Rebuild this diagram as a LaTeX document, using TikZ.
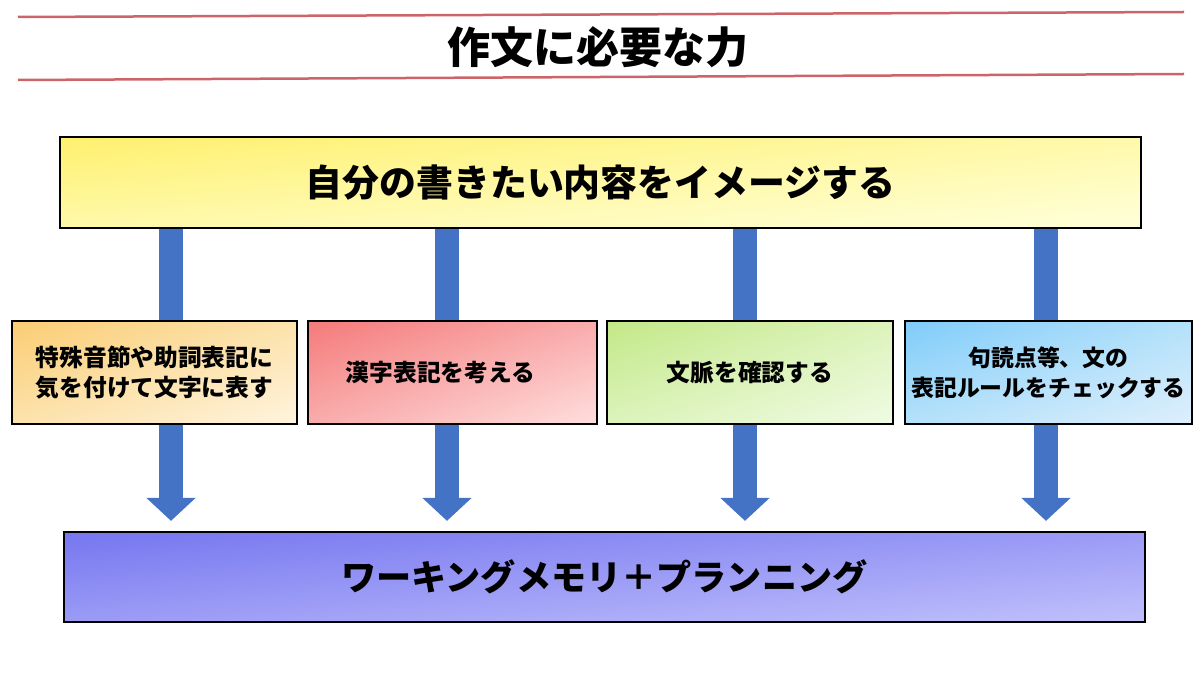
\documentclass[tikz,border=0pt]{standalone}
\usepackage{fontspec}
\setmainfont{Noto Sans CJK JP}
\usetikzlibrary{arrows.meta,backgrounds,shadings}
\definecolor{arrowblue}{RGB}{68,114,196}
\definecolor{redline}{RGB}{205,100,105}
\definecolor{yA}{RGB}{255,240,110}\definecolor{yB}{RGB}{255,249,170}\definecolor{yC}{RGB}{255,255,218}
\definecolor{oA}{RGB}{250,205,115}\definecolor{oB}{RGB}{252,226,172}\definecolor{oC}{RGB}{255,244,222}
\definecolor{rA}{RGB}{245,122,122}\definecolor{rB}{RGB}{249,172,172}\definecolor{rC}{RGB}{255,222,222}
\definecolor{gA}{RGB}{195,232,135}\definecolor{gB}{RGB}{220,243,187}\definecolor{gC}{RGB}{240,251,228}
\definecolor{bA}{RGB}{128,204,250}\definecolor{bB}{RGB}{180,225,250}\definecolor{bC}{RGB}{222,239,252}
\definecolor{pA}{RGB}{118,118,240}\definecolor{pB}{RGB}{155,155,246}\definecolor{pC}{RGB}{192,192,252}
\begin{document}
\begin{tikzpicture}[x=0.02cm,y=-0.02cm,
  box/.style={draw=black, line width=1.3pt, inner sep=0pt, align=center},
  midbox/.style={box, minimum height=2.06cm, font=\bfseries\fontsize{13.5}{17}\selectfont},
  bigbox/.style={box, minimum width=21.62cm},
  grad/.style n args={3}{upper left=#1, upper right=#2, lower left=#2, lower right=#3},
  rline/.style={draw=redline, line width=0.05cm},
  bluearrow/.style={draw=arrowblue, line width=0.48cm, -{Triangle[width=0.96cm,length=0.46cm]}, shorten >=0.2cm}]
\useasboundingbox (0,0) rectangle (1200,675);
% title and rules
\coordinate (l1a) at (18,17); \coordinate (l1b) at (1184,12);
\coordinate (l2a) at (18,80); \coordinate (l2b) at (1184,74);
\draw[rline] (l1a) -- (l1b);
\draw[rline] (l2a) -- (l2b);
\node[font=\bfseries\fontsize{24.5}{28}\selectfont] (title) at (598,47) {作文に必要な力};
% top box
\node[bigbox, minimum height=1.82cm, grad={yA}{yB}{yC}, font=\bfseries\fontsize{21}{24}\selectfont] (top) at (600.5,182.5) {自分の書きたい内容をイメージする};
% middle boxes
\node[midbox, minimum width=5.70cm, grad={oA}{oB}{oC}] (m1) at (154.5,372.5) {特殊音節や助詞表記に\\気を付けて文字に表す};
\node[midbox, minimum width=5.78cm, grad={rA}{rB}{rC}] (m2) at (452.5,372.5) {漢字表記を考える\hspace*{0.48cm}};
\node[midbox, minimum width=5.72cm, grad={gA}{gB}{gC}] (m3) at (750,372.5) {文脈を確認する};
\node[midbox, minimum width=5.74cm, grad={bA}{bB}{bC}, font=\bfseries\fontsize{13}{17}\selectfont] (m4) at (1048.5,372.5) {句読点等、文の\\表記ルールをチェックする};
% bottom box
\node[bigbox, minimum height=1.80cm, grad={pA}{pB}{pC}, font=\bfseries\fontsize{20}{24}\selectfont] (bot) at (604.5,577) {ワーキングメモリ＋プランニング};
% arrows behind boxes
\coordinate (c1) at (171,0); \coordinate (c2) at (447,0);
\coordinate (c3) at (745,0); \coordinate (c4) at (1046,0);
\begin{scope}[on background layer]
\foreach \c in {c1,c2,c3,c4}
  \draw[bluearrow] (top.south -| \c) -- (bot.north -| \c);
\end{scope}
\end{tikzpicture}
\end{document}
